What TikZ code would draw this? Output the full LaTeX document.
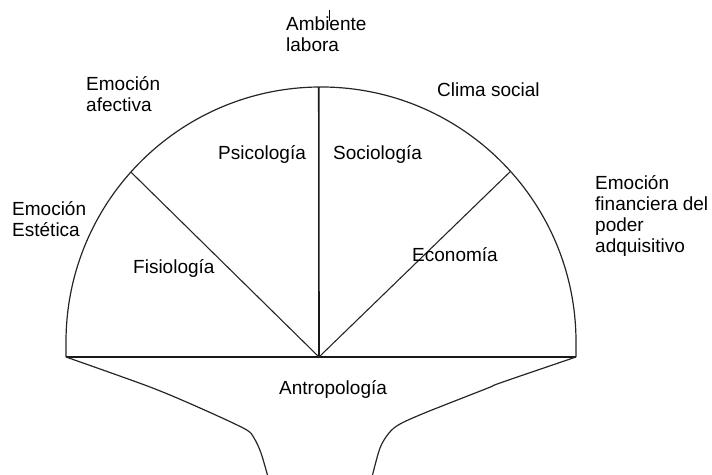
\documentclass[tikz,border=0pt]{standalone}
\usepackage{fontspec}
\setmainfont{Liberation Sans}
\usetikzlibrary{calc}
\begin{document}
\begin{tikzpicture}[x=1bp,y=1bp,
  outline/.style={line width=1.2bp,black!85},
  spoke/.style={line width=1.1bp,black!85},
  mainspoke/.style={line width=1.6bp,black!90},
  lbl/.style={anchor=base west,inner sep=0pt,align=left,
    font=\fontsize{19bp}{21bp}\selectfont}]
\useasboundingbox (0,0) rectangle (712,475);

% key points of the fan
\coordinate (c) at (321,133);
\coordinate (bl) at (66,118);
\coordinate (br) at (576,118);
\coordinate (apex) at (319,118);
\coordinate (pl) at ($(c)+(138.2:255bp)$);
\coordinate (pt) at ($(c)+(90.5:255bp)$);
\coordinate (pr) at ($(c)+(42:255bp)$);

% half-disc outline and base
\draw[outline] (bl) -- (66,133) arc[start angle=180,end angle=0,radius=255bp] -- (br);
\draw[mainspoke] (bl) -- (br);

% spokes from the apex
\draw[spoke] (apex) -- (pl);
\draw[mainspoke] (apex) -- (pt);
\draw[spoke] (apex) -- (pr);

% stem below the base
\draw[outline] plot[smooth,tension=0.5] coordinates
  {(bl) (150,88) (200,67) (245,46) (254,37) (261,22) (268,-2)};
\draw[outline] plot[smooth,tension=0.5] coordinates
  {(br) (500,92) (488,87) (427,63) (400,51) (389,42) (380,27) (372,-2)};

% small tick above the top label
\draw[line width=1bp] (329,465) -- (329,454);

% labels (multi-line labels are placed by the baseline of their last line)
\node[lbl] (amb) at (286,423) {Ambiente\\labora};
\node[lbl] (afe) at (86,363) {Emoción\\afectiva};
\node[lbl] (est) at (12,238) {Emoción\\Estética};
\node[lbl] (cli) at (437,378) {Clima social};
\node[lbl] (fin) at (595,222) {Emoción\\financiera del\\poder\\adquisitivo};
\node[lbl] (psi) at (218,315) {Psicología};
\node[lbl] (soc) at (333,315) {Sociología};
\node[lbl] (fis) at (133,201) {Fisiología};
\node[lbl] (eco) at (412,213) {Economía};
\node[lbl] (ant) at (279,80) {Antropología};
\end{tikzpicture}
\end{document}
